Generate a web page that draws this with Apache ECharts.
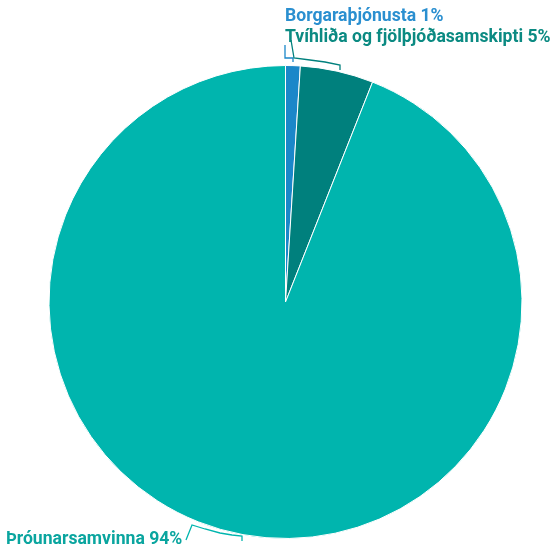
<!DOCTYPE html>
<html>
<head>
<meta charset="utf-8">
<script src="https://cdn.jsdelivr.net/npm/echarts@6/dist/echarts.min.js"></script>
<style>
html, body { margin: 0; padding: 0; background: #fff; }
#main { width: 552px; height: 550px; }
</style>
</head>
<body>
<div id="main"></div>
<script>
var names = ['Borgaraþjónusta', 'Tvíhliða og fjölþjóðasamskipti', 'Þróunarsamvinna'];
var values = [1, 5, 94];
var colors = ['#1b87c9', '#00807d', '#00b5ae'];
var labelColors = ['#2a8fd0', '#0b8a82', '#0aa59f'];

// where each label sits (left edge, vertical centre)
var labelSpots = [[285, 17], [285, 38], [6, 540]];
// bracket-style leader lines
var leaderPoints = [
    [[285, 45], [285, 58], [293, 58], [293, 62]],
    [[291, 40], [294, 58], [310, 60], [325, 62], [340, 65], [340, 70]],
    [[186, 540], [192, 525], [205, 529], [220, 533], [232, 535], [242, 536], [242, 541]]
];

var chart = echarts.init(document.getElementById('main'));

var data = names.map(function (n, i) {
    return {
        name: n,
        value: values[i],
        itemStyle: { color: colors[i] },
        label: { color: labelColors[i] },
        labelLine: { lineStyle: { color: colors[i] } }
    };
});

var option = {
    animation: false,
    series: [
        {
            type: 'pie',
            center: [285.5, 302],
            radius: [0, 236.5],
            startAngle: 90,
            clockwise: true,
            data: data,
            itemStyle: { borderColor: '#fff', borderWidth: 1 },
            label: {
                show: true,
                formatter: '{b} {c}%',
                fontFamily: 'Roboto',
                fontWeight: 'bold',
                fontSize: 17.6,
                overflow: 'none'
            },
            labelLine: { show: true, length: 8, length2: 8, lineStyle: { width: 1.3 } },
            labelLayout: function (params) {
                var i = params.dataIndex;
                var s = labelSpots[i];
                return {
                    x: s[0],
                    y: s[1],
                    align: 'left',
                    verticalAlign: 'middle',
                    labelLinePoints: leaderPoints[i]
                };
            }
        }
    ]
};

chart.setOption(option);
</script>
</body>
</html>
